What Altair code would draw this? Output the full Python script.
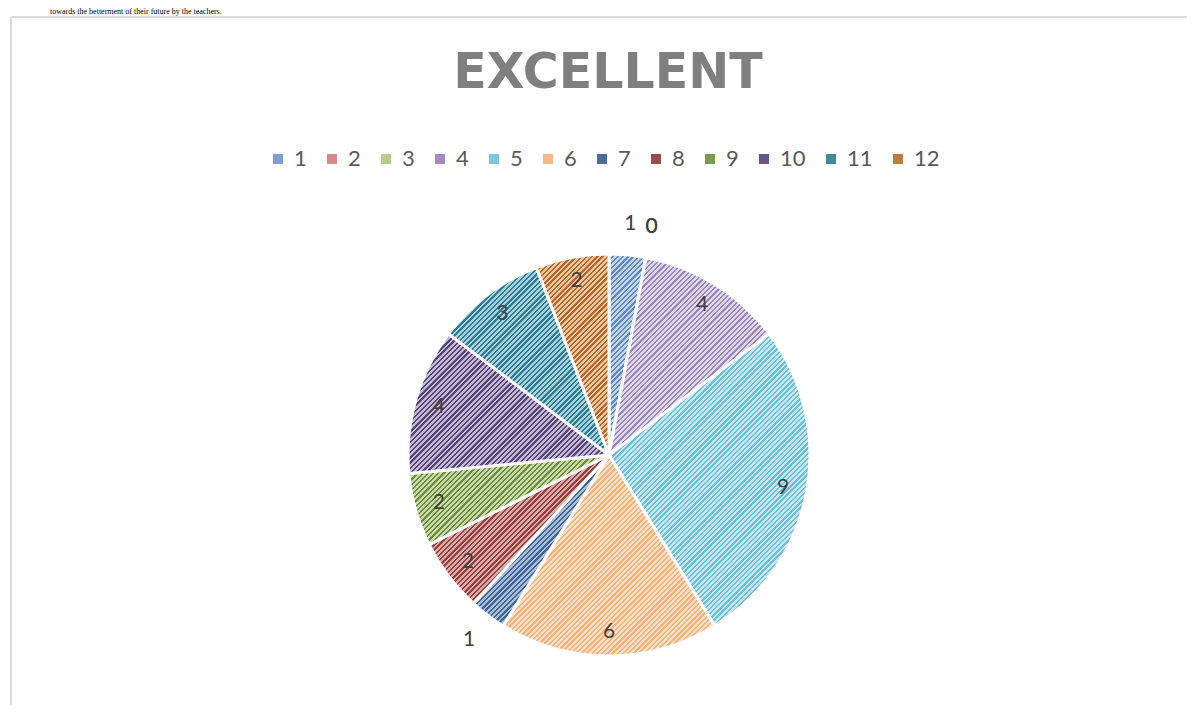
import math
import altair as alt
import pandas as pd

# ---------------- data ----------------
categories = ["1", "2", "3", "4", "5", "6", "7", "8", "9", "10", "11", "12"]
values = [1, 0, 0, 4, 9, 6, 1, 2, 2, 4, 3, 2]
chart_title = "EXCELLENT"
page_text = "towards the betterment of their future by the teachers."

# colours (legend swatch / hatch stripe / hatch background)
legend_colors = ["#7f9fd0", "#d88a88", "#b5cf8b", "#a08cc0", "#7fc8dc", "#f9b887",
                 "#4a6d9b", "#9b4b49", "#7e9a4e", "#6a5686", "#44889e", "#c07a3e"]
stripe_colors = ["#5b87c4", "#c0504d", "#9bbb59", "#9a84bc", "#6cbdd6", "#f7b27a",
                 "#3d6494", "#953f3c", "#6d8a3c", "#574474", "#2f7a8f", "#b4672c"]
back_colors = ["#c6d5ee", "#eccaca", "#dce8c8", "#e0d8ec", "#c7e9f3", "#fde0c7",
               "#a9bcd8", "#dcaaa8", "#c8dcaa", "#c3b8d6", "#a6d3df", "#f4c79f"]

df = pd.DataFrame({"cat": categories, "value": values, "idx": list(range(len(values)))})

# ---------------- layout / style ----------------
W, H = 1179, 697
CX, CY, R = 601, 447, 201
PERIOD = 5.2      # horizontal period of hatch stripes in px
FRAC = 0.45       # stripe share of a period
FRAME_Y = 9


def hatch_gradient(i):
    """Diagonal hatch as a hard-stop linear gradient in the slice's bounding box."""
    total = sum(values)
    a0 = sum(values[:i]) / total * 2 * math.pi
    a1 = sum(values[:i + 1]) / total * 2 * math.pi
    angles = [a0, a1] + [k * math.pi / 2 for k in range(5) if a0 < k * math.pi / 2 < a1]
    pts = [(0.0, 0.0)] + [(R * math.sin(a), -R * math.cos(a)) for a in angles]
    xs = [p[0] for p in pts]
    ys = [p[1] for p in pts]
    w = max(max(xs) - min(xs), 1.0)
    h = max(max(ys) - min(ys), 1.0)
    x2 = (w + h) * w / (w * w + h * h)
    y2 = (w + h) * h / (w * w + h * h)
    period = PERIOD / (w + h)
    stops = []
    t = 0.0
    fg, bg = stripe_colors[i], back_colors[i]
    while t < 1.0:
        t1 = min(t + FRAC * period, 1.0)
        t2 = min(t + period, 1.0)
        stops += [{"offset": round(t, 5), "color": fg},
                  {"offset": round(t1, 5), "color": fg},
                  {"offset": round(t1, 5), "color": bg},
                  {"offset": round(t2, 5), "color": bg}]
        t += period
    return {"gradient": "linear", "x1": 0, "y1": 0, "x2": x2, "y2": y2, "stops": stops}


conditions = [{"test": f"datum.cat === '{c}'", "value": hatch_gradient(i)}
              for i, c in enumerate(categories) if values[i] > 0]

base = alt.Chart(df).encode(
    theta=alt.Theta("value:Q", stack=True),
    order=alt.Order("idx:Q"),
)

pie_base = base.mark_arc(outerRadius=R, stroke="white", strokeWidth=3).encode(
    x=alt.value(CX), y=alt.value(CY),
    color=alt.Color(
        "cat:N",
        scale=alt.Scale(domain=categories, range=legend_colors),
        sort=categories,
        legend=alt.Legend(
            orient="none", legendX=259, legendY=140, direction="horizontal",
            title=None, symbolType="square", symbolSize=100, symbolStrokeWidth=0,
            labelFontSize=22, labelColor="#595959", labelFont="Lato",
            columnPadding=14, labelOffset=5, columns=12,
        ),
    ),
)

pie_hatch = base.mark_arc(outerRadius=R, stroke="white", strokeWidth=3).encode(
    x=alt.value(CX), y=alt.value(CY),
    color={"condition": conditions, "value": "#dddddd"},
)

labels = base.mark_text(
    font="Lato", fontSize=21, color="#404040",
    radius=alt.expr("datum.value <= 1 ? 232 : 177"),
).encode(
    x=alt.value(CX), y=alt.value(CY),
    text=alt.Text("value:Q"),
)

title = alt.Chart(pd.DataFrame({"t": [chart_title]})).mark_text(
    font="DejaVu Sans", fontSize=49, fontWeight="bold", color="#7f7f7f",
    baseline="middle", align="center",
).encode(x=alt.value(600), y=alt.value(65), text="t:N")

top_line = alt.Chart(pd.DataFrame({"t": [page_text]})).mark_text(
    font="Liberation Serif", fontSize=8, color="#000000",
    baseline="alphabetic", align="left",
).encode(x=alt.value(42), y=alt.value(6), text="t:N")

frame_top = alt.Chart(pd.DataFrame({"a": [0]})).mark_rule(
    color="#d9d9d9", strokeWidth=2
).encode(x=alt.value(3), x2=alt.value(W), y=alt.value(FRAME_Y))

frame_left = alt.Chart(pd.DataFrame({"a": [0]})).mark_rule(
    color="#d9d9d9", strokeWidth=2
).encode(x=alt.value(3), y=alt.value(FRAME_Y), y2=alt.value(H))

chart = alt.layer(
    frame_top, frame_left, top_line, title, pie_base, pie_hatch, labels
).properties(
    width=W, height=H,
    autosize=alt.AutoSizeParams(type="none"),
    padding=0,
).configure_view(stroke=None)

chart.save("out.html", embed_options={"renderer": "svg", "actions": False})
